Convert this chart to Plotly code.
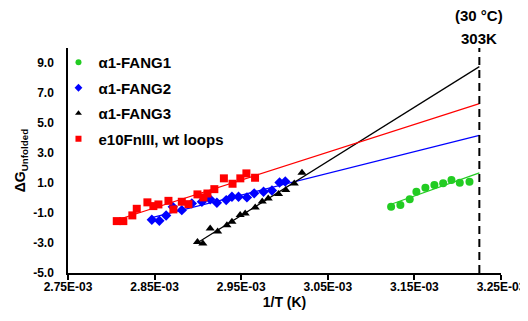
import numpy as np
import plotly.graph_objects as go

# ---- data (1/T in K^-1, dG unfolded) ----
fang1_x = [3.1231e-3, 3.1338e-3, 3.1446e-3, 3.1523e-3, 3.1627e-3, 3.1731e-3, 3.1832e-3, 3.1928e-3, 3.2024e-3, 3.2136e-3]
fang1_y = [-0.59, -0.47, -0.09, 0.41, 0.68, 0.86, 0.98, 1.20, 1.02, 1.08]

fang2_x = [2.8468e-3, 2.8555e-3, 2.8633e-3, 2.8710e-3, 2.8814e-3, 2.8930e-3, 2.9046e-3, 2.9142e-3, 2.9219e-3,
           2.9327e-3, 2.9393e-3, 2.9469e-3, 2.9566e-3, 2.9650e-3, 2.9758e-3, 2.9855e-3, 2.9943e-3, 3.0009e-3]
fang2_y = [-1.45, -1.52, -1.17, -0.59, -0.81, -0.36, -0.25, -0.09, -0.32,
           -0.14, 0.08, 0.08, 0.04, 0.31, 0.42, 0.50, 1.03, 1.10]

fang3_x = [2.8995e-3, 2.9057e-3, 2.9142e-3, 2.9228e-3, 2.9335e-3, 2.9393e-3, 2.9488e-3, 2.9546e-3,
           2.9662e-3, 2.9743e-3, 2.9812e-3, 2.9931e-3, 3.0015e-3, 3.0113e-3, 3.0202e-3]
fang3_y = [-2.93, -3.03, -2.03, -2.23, -1.81, -1.59, -1.14, -1.03,
           -0.63, -0.24, -0.03, 0.26, 0.53, 0.96, 1.68]

wt_x = [2.8063e-3, 2.8139e-3, 2.8243e-3, 2.8294e-3, 2.8417e-3, 2.8486e-3, 2.8544e-3, 2.8660e-3, 2.8717e-3, 2.8814e-3,
        2.8891e-3, 2.8995e-3, 2.9064e-3, 2.9110e-3, 2.9190e-3, 2.9300e-3, 2.9400e-3, 2.9490e-3, 2.9560e-3, 2.9660e-3]
wt_y = [-1.54, -1.54, -1.16, -0.72, -0.29, -0.54, -0.43, -0.19, -0.76, -0.25,
        -0.41, 0.24, 0.04, 0.30, 0.59, 1.31, 0.95, 1.31, 1.64, 1.35]

ref_x = 3.225e-3          # 303 K reference line
x_ticks = [2.75e-3, 2.85e-3, 2.95e-3, 3.05e-3, 3.15e-3, 3.25e-3]
x_tick_labels = ["2.75E-03", "2.85E-03", "2.95E-03", "3.05E-03", "3.15E-03", "3.25E-03"]
y_ticks = [-5, -3, -1, 1, 3, 5, 7, 9]
y_tick_labels = ["-5.0", "-3.0", "-1.0", "1.0", "3.0", "5.0", "7.0", "9.0"]

series = [
    ("α1-FANG1", fang1_x, fang1_y, "#22CC22", "circle", 8),
    ("α1-FANG2", fang2_x, fang2_y, "#0000FF", "diamond", 8),
    ("α1-FANG3", fang3_x, fang3_y, "#000000", "triangle-up", 8),
    ("e10FnIII, wt loops", wt_x, wt_y, "#FF0000", "square", 8),
]

FONT = "Liberation Sans, Arial, sans-serif"
fig = go.Figure()
for i, (name, xs, ys, col, sym, sz) in enumerate(series):
    xs = np.array(xs); ys = np.array(ys)
    m, b = np.polyfit(xs, ys, 1)
    lx = np.array([xs.min(), ref_x])
    fig.add_trace(go.Scatter(x=lx, y=m * lx + b, mode="lines", line=dict(color=col, width=1.2),
                             showlegend=False, hoverinfo="skip"))
    fig.add_trace(go.Scatter(x=xs, y=ys, mode="markers", name=name, showlegend=False,
                             marker=dict(color=col, symbol=sym, size=sz, line=dict(width=0))))
    # legend entry with the smaller key symbol
    fig.add_trace(go.Scatter(x=[None], y=[None], mode="markers", name=name, legendgroup=name,
                             marker=dict(color=col, symbol=sym, size=6, line=dict(width=0))))

fig.add_shape(type="line", x0=ref_x, x1=ref_x, y0=-5, y1=10, xref="x", yref="y",
              line=dict(color="black", width=2, dash="8px,5px"))
fig.add_annotation(x=ref_x, y=1, xref="x", yref="paper", yanchor="middle", yshift=33, text="(30 °C)",
                   showarrow=False, font=dict(family=FONT, size=15, color="black", weight="bold"))
fig.add_annotation(x=ref_x, y=1, xref="x", yref="paper", yanchor="middle", yshift=10, text="303K",
                   showarrow=False, font=dict(family=FONT, size=15, color="black", weight="bold"))

# page body has an 8px margin, so the figure is offset by 8px; size it accordingly
fig.update_layout(
    width=520, height=313,
    margin=dict(l=60, r=27, t=40, b=48, autoexpand=False),
    paper_bgcolor="white", plot_bgcolor="white",
    font=dict(family=FONT, color="black"),
    showlegend=True,
    legend=dict(x=-0.022, y=1.009, xanchor="left", yanchor="top", bgcolor="rgba(0,0,0,0)",
                font=dict(family=FONT, size=15, color="black", weight="bold"),
                tracegroupgap=3),
    xaxis=dict(range=[2.75e-3, 3.25e-3], tickvals=x_ticks, ticktext=x_tick_labels, automargin=False,
               showgrid=False, zeroline=False, showline=True, linecolor="black", linewidth=1.5,
               ticks="outside", ticklen=5, tickwidth=1.5, tickcolor="black", ticklabelstandoff=-3,
               tickfont=dict(family=FONT, size=12, color="black", weight="bold"),
               title=dict(text="1/T (K)", font=dict(family=FONT, size=14, color="black", weight="bold"),
                          standoff=0)),
    yaxis=dict(range=[-5, 10], tickvals=y_ticks, ticktext=y_tick_labels, automargin=False,
               showgrid=False, zeroline=False, showline=True, linecolor="black", linewidth=1.5,
               ticks="", ticklabelstandoff=10,
               tickfont=dict(family=FONT, size=12, color="black", weight="bold"),
               title=dict(text="ΔG<sub>Unfolded</sub>", font=dict(family=FONT, size=14, color="black", weight="bold"),
                          standoff=4)),
)
fig.write_html("out.html")
